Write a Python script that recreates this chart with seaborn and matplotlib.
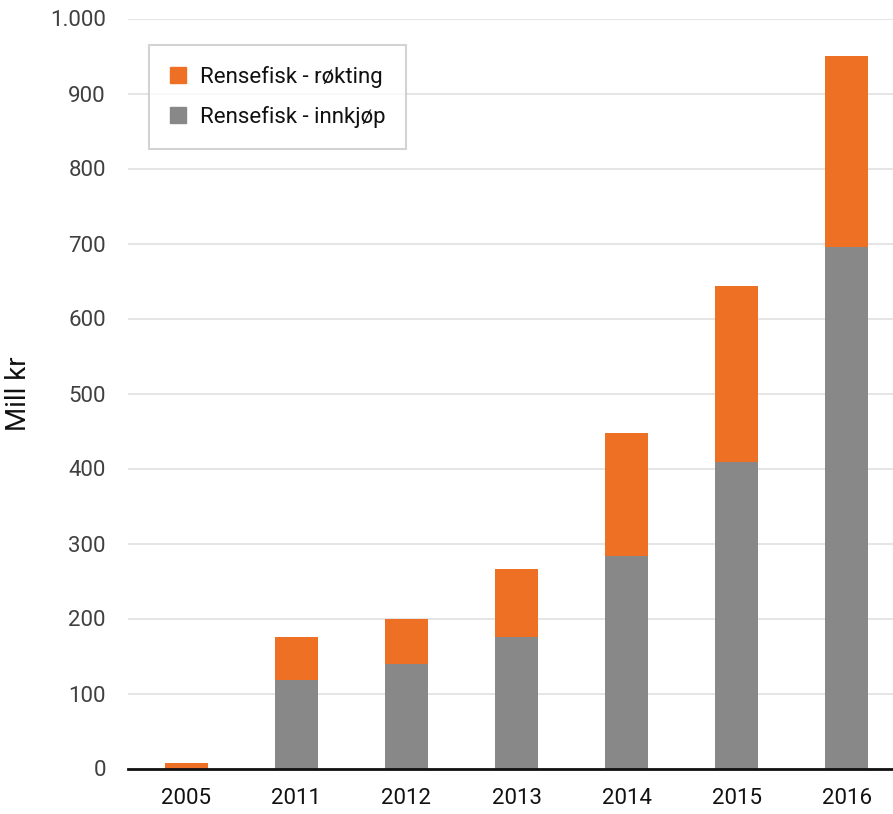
import numpy as np
import pandas as pd
import matplotlib.pyplot as plt
import seaborn as sns
from matplotlib.ticker import FuncFormatter
from matplotlib.patches import Patch

# Data (Mill kr)
years = ["2005", "2011", "2012", "2013", "2014", "2015", "2016"]
innkjop = [0, 118, 140, 176, 284, 409, 696]
rokting = [7, 57, 60, 90, 163, 235, 254]

orange = "#ee7024"
grey = "#888888"

sns.set_theme(style="white")
plt.rcParams['font.family'] = ['Roboto', 'DejaVu Sans']

df = pd.DataFrame({"year": years, "innkjop": innkjop, "rokting": rokting})
df["total"] = df["innkjop"] + df["rokting"]

fig = plt.figure(figsize=(8.93, 8.14), dpi=100)
ax = fig.add_axes([128 / 893, 1 - 768.5 / 814, (893 - 128) / 893, 750 / 814])

# stacked: draw total (orange) first, then grey on top of the lower part
sns.barplot(data=df, x="year", y="total", color=orange, width=0.39,
            saturation=1, linewidth=0, ax=ax, zorder=2)
sns.barplot(data=df, x="year", y="innkjop", color=grey, width=0.39,
            saturation=1, linewidth=0, ax=ax, zorder=3)

ax.set_ylim(0, 1000)
ax.set_xlim(-0.53, 6.42)
ax.set_yticks(np.arange(0, 1001, 100))
ax.yaxis.set_major_formatter(FuncFormatter(lambda v, p: f"{int(v):,}".replace(",", ".")))
ax.grid(axis="y", color="#e0e0e0", linewidth=1.2, zorder=0)
ax.set_axisbelow(True)

for s in ["top", "right", "left"]:
    ax.spines[s].set_visible(False)
ax.spines["bottom"].set_color("#111111")
ax.spines["bottom"].set_linewidth(2)
ax.spines["bottom"].set_zorder(5)

ax.tick_params(axis="y", length=0, pad=16, labelsize=16, labelcolor="#404040")
ax.tick_params(axis="x", length=0, pad=14, labelsize=16, labelcolor="#111111")

ax.set_xlabel("")
ax.set_ylabel("Mill kr", fontsize=20, color="#111111")
ax.yaxis.set_label_coords(-0.125, 0.5)

handles = [Patch(color=orange, label="Rensefisk - røkting"),
           Patch(color=grey, label="Rensefisk - innkjøp")]
leg = ax.legend(handles=handles, loc="upper left", bbox_to_anchor=(0.027, 0.965),
                fontsize=16, frameon=True, fancybox=False, handlelength=0.75,
                handleheight=0.75, handletextpad=0.6, borderpad=0.95,
                labelspacing=0.8, borderaxespad=0)
leg.get_frame().set_edgecolor("#c8c8c8")
leg.get_frame().set_linewidth(1.5)
for t in leg.get_texts():
    t.set_color("#111111")

fig.savefig("out.png", dpi=100)
